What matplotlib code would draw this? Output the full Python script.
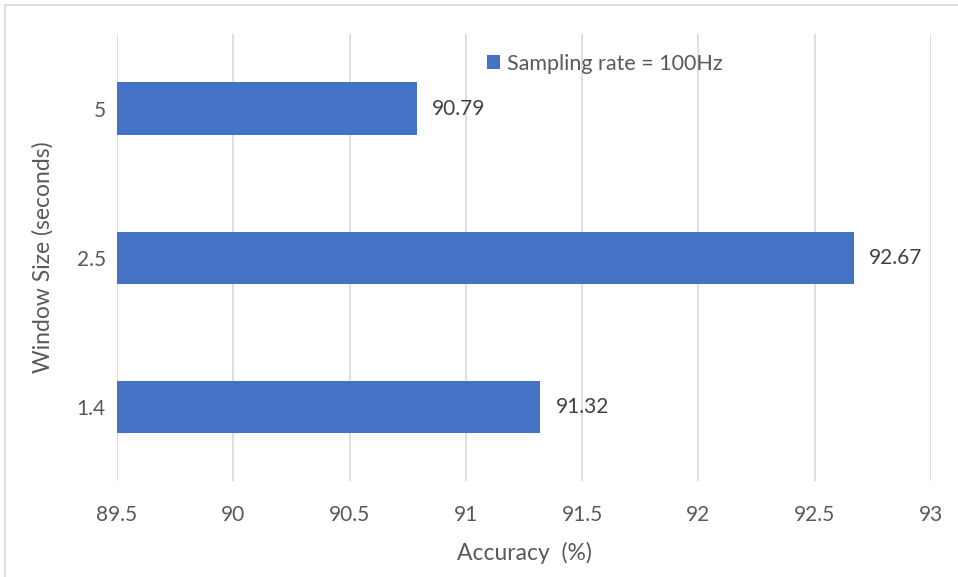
import matplotlib
matplotlib.use("Agg")
import matplotlib.pyplot as plt
from matplotlib.patches import Rectangle

plt.rcParams['font.family'] = ['Lato', 'DejaVu Sans']

window_sizes = ["1.4", "2.5", "5"]
accuracy = [91.32, 92.67, 90.79]
series_name = "Sampling rate = 100Hz"
x_ticks = [89.5, 90, 90.5, 91, 91.5, 92, 92.5, 93]

bar_color = "#4472C4"
text_color = "#595959"
grid_color = "#D9D9D9"

fig = plt.figure(figsize=(9.58, 5.77), dpi=100)
ax = fig.add_axes([0.1221, 0.166, 0.8497, 0.775])

xmin = x_ticks[0]
ypos = list(range(len(window_sizes)))
ax.barh(ypos, [a - xmin for a in accuracy], left=xmin, height=0.35,
        color=bar_color, label=series_name, zorder=3)

for y, v in zip(ypos, accuracy):
    ax.text(v + 0.065, y, f"{v:.2f}", va="center", ha="left",
            fontsize=15, color="#404040")

ax.set_xlim(x_ticks[0], x_ticks[-1])
ax.set_ylim(-0.5, len(window_sizes) - 0.5)
ax.set_xticks(x_ticks)
ax.set_xticklabels([f"{t:g}" for t in x_ticks])
ax.set_yticks(ypos)
ax.set_yticklabels(window_sizes)
ax.tick_params(axis="both", length=0, labelsize=15, colors=text_color)
ax.tick_params(axis="x", pad=17)
ax.tick_params(axis="y", pad=8)
ax.grid(axis="x", color=grid_color, linewidth=1.2, zorder=0)
for s in ax.spines.values():
    s.set_visible(False)

ax.set_xlabel("Accuracy  (%)", fontsize=16.5, color=text_color, labelpad=12)
ax.set_ylabel("Window Size (seconds)", fontsize=16.5, color=text_color, labelpad=17)

leg = ax.legend(loc="center left", bbox_to_anchor=(0.455, 0.934), frameon=False,
                fontsize=15.5, handlelength=0.6, handleheight=0.6,
                handletextpad=0.3, borderaxespad=0, borderpad=0)
for t in leg.get_texts():
    t.set_color(text_color)

# outer chart border
fig.patches.append(Rectangle((5 / 958, -0.01), 1.0, 1 - 5 / 577 + 0.01,
                             transform=fig.transFigure, fill=False,
                             edgecolor=grid_color, linewidth=1.2))

fig.savefig("out.png", dpi=100, facecolor="white")
